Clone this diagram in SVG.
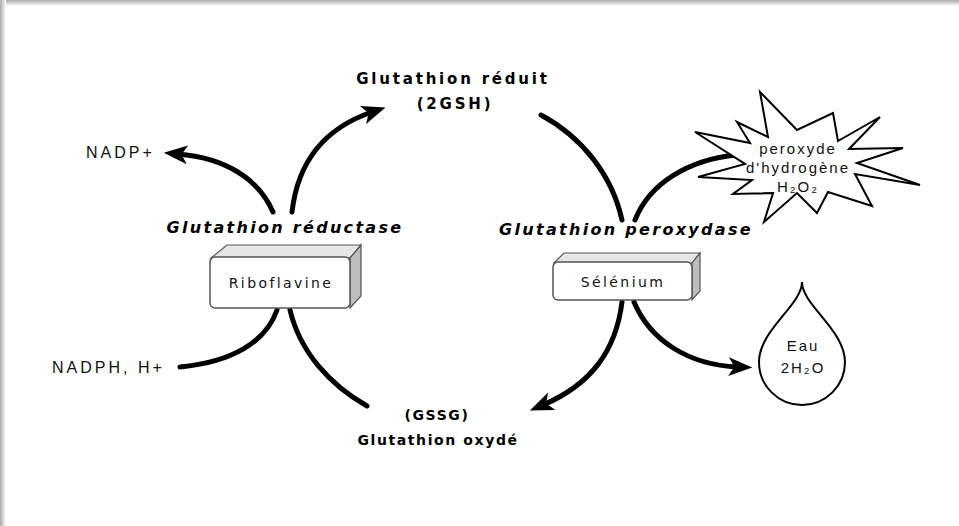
<svg xmlns="http://www.w3.org/2000/svg" width="959" height="526" viewBox="0 0 959 526">
<defs>
<linearGradient id="gTop" x1="0" y1="0" x2="0" y2="1"><stop offset="0" stop-color="#a8a8a8"/><stop offset="1" stop-color="#ffffff"/></linearGradient>
<linearGradient id="gLeft" x1="0" y1="0" x2="1" y2="0"><stop offset="0" stop-color="#a8a8a8"/><stop offset="1" stop-color="#ffffff"/></linearGradient>
<marker id="ah" viewBox="0 0 20 16" refX="8" refY="8" markerWidth="24" markerHeight="19" markerUnits="userSpaceOnUse" orient="auto">
<path d="M0,0 L20,8 L0,16 L5,8 z" fill="#000"/>
</marker>
<style>
.t{font-family:"DejaVu Sans","Liberation Sans",sans-serif;font-weight:bold;font-size:15px;letter-spacing:2.8px;fill:#000}
.b{font-family:"DejaVu Sans","Liberation Sans",sans-serif;font-weight:bold;font-size:14px;letter-spacing:1.6px;fill:#000}
.ti{font-family:"DejaVu Sans","Liberation Sans",sans-serif;font-weight:bold;font-style:italic;font-size:16px;letter-spacing:2.3px;fill:#000}
.r{font-family:"DejaVu Sans","Liberation Sans",sans-serif;font-size:14px;letter-spacing:2.4px;fill:#111}
.s{font-family:"Liberation Sans","DejaVu Sans",sans-serif;font-size:16px;letter-spacing:3px;fill:#111}
.st{font-family:"Liberation Sans","DejaVu Sans",sans-serif;font-size:15px;letter-spacing:2px;fill:#111}
.c{fill:none;stroke:#000;stroke-width:5;stroke-linecap:round}
.front{fill:#fff;stroke:#555;stroke-width:1.5}
.top{fill:#e6e6e6;stroke:#555;stroke-width:1.2}
.side{fill:#bdbdbd;stroke:#555;stroke-width:1.2}
.shape{fill:#fff;stroke:#000;stroke-width:2;stroke-linejoin:miter}
</style>
</defs>
<rect width="959" height="526" fill="#fff"/>
<rect x="0" y="0" width="959" height="6" fill="url(#gTop)"/>
<rect x="0" y="0" width="6" height="526" fill="url(#gLeft)"/>

<g id="connectors">
<path class="c" d="M292,212 C298,160 325,128 372,112" marker-end="url(#ah)"/>
<path class="c" d="M273,212 C258,178 225,158 178,154" marker-end="url(#ah)"/>
<path class="c" d="M180,367 C232,362 266,342 277,310"/>
<path class="c" d="M290,310 C300,352 330,385 367,406"/>
<path class="c" d="M541,115 C582,137 612,175 622,220"/>
<path class="c" d="M735,155 C690,160 650,182 635,220"/>
<path class="c" d="M622,302 C616,350 592,384 543,405" marker-end="url(#ah)"/>
<path class="c" d="M634,302 C650,340 688,365 738,367" marker-end="url(#ah)"/>
</g>

<g id="glutathion-reduit">
<text class="t" x="453" y="84" text-anchor="middle">Glutathion réduit</text>
<text class="t" x="455" y="109" text-anchor="middle">(2GSH)</text>
</g>

<g id="glutathion-oxyde">
<text class="b" x="437" y="420" text-anchor="middle">(GSSG)</text>
<text class="b" x="438" y="445" text-anchor="middle">Glutathion oxydé</text>
</g>

<g id="glutathion-reductase">
<text class="ti" x="285" y="233" text-anchor="middle">Glutathion réductase</text>
</g>

<g id="glutathion-peroxydase">
<text class="ti" x="626" y="235" text-anchor="middle">Glutathion peroxydase</text>
</g>

<g id="nadp">
<text class="s" x="86" y="158">NADP+</text>
</g>

<g id="nadph">
<text class="s" x="52" y="373">NADPH, H+</text>
</g>

<g id="riboflavine">
<path class="top" d="M211,258 L227,245 L361,245 L350,258 Z"/>
<path class="side" d="M350,258 L361,245 L361,296 L350,308 Z"/>
<rect class="front" x="210" y="257" width="140" height="51" rx="5"/>
<text class="r" x="281" y="288" text-anchor="middle">Riboflavine</text>
</g>

<g id="selenium">
<path class="top" d="M554,263 L564,253 L700,253 L692,263 Z"/>
<path class="side" d="M692,263 L700,253 L700,291 L692,300 Z"/>
<rect class="front" x="553" y="262" width="139" height="38" rx="5"/>
<text class="r" x="623" y="287" text-anchor="middle">Sélénium</text>
</g>

<g id="peroxyde">
<polygon class="shape" points="760,92 797,130 833,113 838,141 880,117 849,149 903,148 857,163 920,185 855,174 872,206 828,192 817,213 797,193 764,222 773,193 733,194 752,180 698,177 745,164 695,132 750,143 737,122 768,137"/>
<text class="st" x="798" y="154" text-anchor="middle">peroxyde</text>
<text class="st" x="798" y="173" text-anchor="middle">d'hydrogène</text>
<text class="st" x="798" y="192" text-anchor="middle">H₂O₂</text>
</g>

<g id="eau">
<path class="shape" d="M802,282 C802,305 845,330 845,362 A43,43 0 0 1 759,362 C759,330 802,305 802,282 Z"/>
<text class="st" x="803" y="351" text-anchor="middle">Eau</text>
<text class="st" x="803" y="373" text-anchor="middle">2H₂O</text>
</g>
</svg>
